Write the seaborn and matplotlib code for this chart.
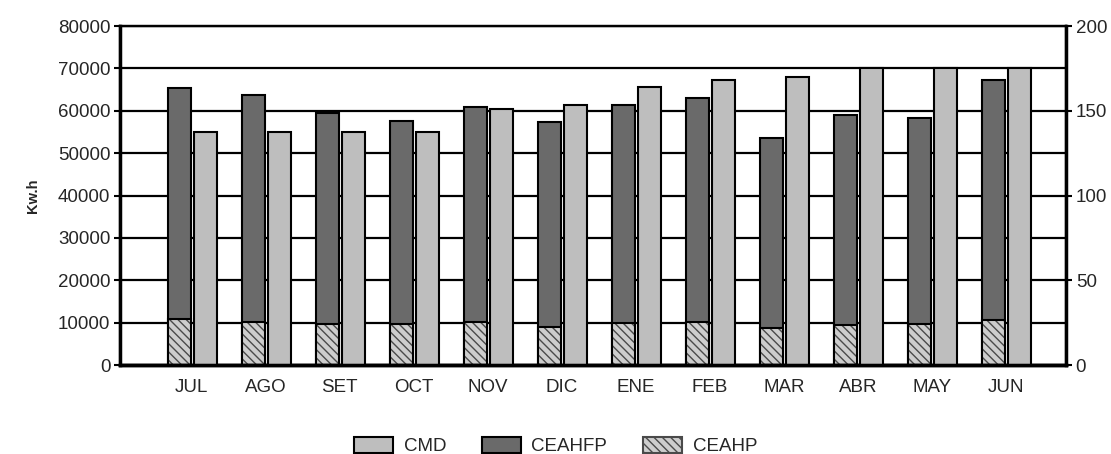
import numpy as np
import pandas as pd
import seaborn as sns
import matplotlib.pyplot as plt
from matplotlib.patches import Patch

# Data
meses = ['JUL', 'AGO', 'SET', 'OCT', 'NOV', 'DIC',
         'ENE', 'FEB', 'MAR', 'ABR', 'MAY', 'JUN']
ceahp = [10800, 10200, 9700, 9700, 10200, 8900,
         10000, 10200, 8650, 9450, 9700, 10600]
ceahfp = [54500, 53500, 49800, 48000, 50600, 48500,
          51400, 52900, 45000, 49500, 48700, 56700]
cmd = [137.5, 137.5, 137.5, 137.5, 151, 153.5,
       164, 168, 170, 175, 175, 175]

# Style
sns.set_style("white")
plt.rcParams['font.family'] = ['Liberation Sans', 'DejaVu Sans']
plt.rcParams['hatch.linewidth'] = 1.0

dark = '#6a6a6a'
light = '#bebebe'
hatch_face = '#cdcdcd'
hatch_line = '#4a4a4a'
fs = 13.5

df = pd.DataFrame({'mes': meses, 'CEAHP': ceahp, 'CEAHFP': ceahfp, 'CMD': cmd})
df['total'] = df['CEAHP'] + df['CEAHFP']
pos = np.arange(len(meses))

fig = plt.figure(figsize=(11.11, 4.54), dpi=100)
ax = fig.add_axes([0.108, 0.196, 0.8515, 0.7467])

# gridlines behind bars
ax.set_axisbelow(True)
ax.yaxis.grid(True, color='black', linewidth=1.6)

# stacked bars: dark total, hatched bottom on top of it
sns.barplot(x=pos - 0.165, y=df['total'], native_scale=True, width=0.31,
            color=dark, saturation=1, edgecolor='black', linewidth=1.5, ax=ax)
sns.barplot(x=pos - 0.165, y=df['CEAHP'], native_scale=True, width=0.31,
            color=hatch_face, saturation=1, edgecolor=hatch_line, linewidth=0,
            hatch='\\\\\\\\', ax=ax)
# black outline over the hatched part
sns.barplot(x=pos - 0.165, y=df['CEAHP'], native_scale=True, width=0.31,
            fill=False, color='black', linewidth=1.5, ax=ax)

ax.set_ylim(0, 80000)
ax.set_yticks(np.arange(0, 80001, 10000))
ax.set_xlim(-0.97, 11.81)
ax.set_xticks(pos)
ax.set_xticklabels(meses, fontsize=fs)
ax.tick_params(axis='y', labelsize=fs, length=4, width=1.5, color='black', pad=3)
ax.tick_params(axis='x', length=5, width=1.5, color='black', pad=5)
ax.set_ylabel('Kw.h', fontsize=10.5, fontweight='bold', labelpad=13)
ax.set_xlabel('')

# CMD on right axis
ax2 = ax.twinx()
sns.barplot(x=pos + 0.18, y=df['CMD'], native_scale=True, width=0.31,
            color=light, saturation=1, edgecolor='black', linewidth=1.5, ax=ax2)
ax2.set_ylim(0, 200)
ax2.set_yticks([0, 50, 100, 150, 200])
ax2.set_xlim(-0.97, 11.81)
ax2.set_ylabel('')
ax2.set_xlabel('')
ax2.tick_params(axis='y', labelsize=fs, length=4, width=1.5, color='black', pad=3)

for a in (ax, ax2):
    for side in ['left', 'right', 'top']:
        a.spines[side].set_color('black')
        a.spines[side].set_linewidth(1.6)
    a.spines['bottom'].set_color('black')
    a.spines['bottom'].set_linewidth(2.5)
ax.spines['left'].set_linewidth(2.5)
ax2.spines['right'].set_linewidth(2.5)

# Legend
handles = [Patch(facecolor=light, edgecolor='black', linewidth=1.5, label='CMD'),
           Patch(facecolor=dark, edgecolor='black', linewidth=1.5, label='CEAHFP'),
           Patch(facecolor=hatch_face, edgecolor=hatch_line, linewidth=1.5,
                 hatch='\\\\\\\\', label='CEAHP')]
fig.legend(handles=handles, loc='center', bbox_to_anchor=(0.5, 0.017), ncol=3,
           frameon=False, fontsize=fs, handlelength=2.1, handleheight=0.9,
           columnspacing=1.9, handletextpad=0.55)

fig.savefig('out.png', dpi=100)
